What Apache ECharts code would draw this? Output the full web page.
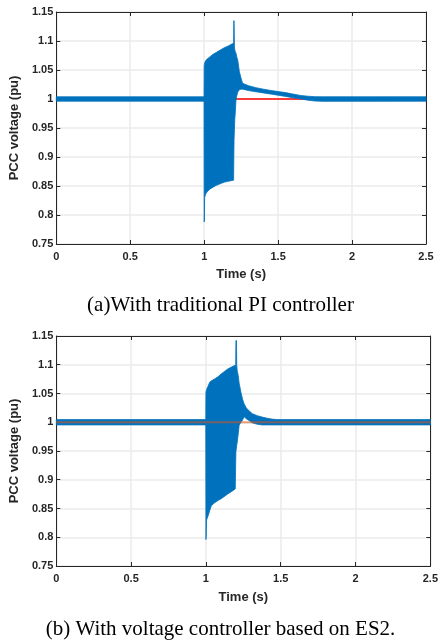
<!DOCTYPE html>
<html>
<head>
<meta charset="utf-8">
<script src="https://cdn.jsdelivr.net/npm/echarts@6/dist/echarts.min.js"></script>
<style>
html,body{margin:0;padding:0;background:#fff;}
#chart{width:441px;height:640px;}
</style>
</head>
<body>
<div id="chart"></div>
<script>
// ---------- data ----------
const xTickLabels = ['0', '0.5', '1', '1.5', '2', '2.5'];
const yTickLabels = ['0.75', '0.8', '0.85', '0.9', '0.95', '1', '1.05', '1.1', '1.15'];
const captionA = '(a)With traditional PI controller';
const captionB = '(b) With voltage controller based on ES2.';
const xName = 'Time (s)';
const yName = 'PCC voltage (pu)';

// (a) PCC voltage envelope (upper / lower bound of the oscillating trace)
const timeA = [0, 0.999, 1.0, 1.0015, 1.003, 1.01, 1.02, 1.04, 1.06, 1.08, 1.1, 1.12, 1.14, 1.16, 1.18, 1.199, 1.2005, 1.202, 1.2045, 1.207, 1.21, 1.215, 1.22, 1.227, 1.238, 1.249, 1.26, 1.3, 1.35, 1.4, 1.45, 1.5, 1.55, 1.6, 1.65, 1.7, 1.75, 1.8, 2.5];
const upperA = [1.0038, 1.0038, 1.058, 1.059, 1.062, 1.066, 1.069, 1.073, 1.077, 1.080, 1.083, 1.086, 1.089, 1.091, 1.094, 1.096, 1.135, 1.135, 1.09, 1.085, 1.082, 1.079, 1.073, 1.067, 1.047, 1.036, 1.027, 1.023, 1.0195, 1.017, 1.0148, 1.0128, 1.011, 1.0085, 1.0062, 1.0048, 1.004, 1.0038, 1.0038];
const lowerA = [0.9962, 0.9962, 0.788, 0.79, 0.83, 0.836, 0.840, 0.845, 0.848, 0.851, 0.853, 0.855, 0.857, 0.858, 0.859, 0.860, 0.90, 0.93, 0.947, 0.965, 0.975, 0.998, 1.005, 1.012, 1.016, 1.017, 1.017, 1.0145, 1.0125, 1.0105, 1.0085, 1.0065, 1.0045, 1.002, 1.0003, 0.998, 0.9965, 0.996, 0.9962];
const refTimeA = [0, 2.5];
const refValA = [1, 1];

// (b) PCC voltage envelope
const timeB = [0, 0.999, 1.0, 1.0015, 1.004, 1.015, 1.025, 1.036, 1.058, 1.08, 1.102, 1.146, 1.19, 1.196, 1.199, 1.2005, 1.204, 1.206, 1.209, 1.216, 1.222, 1.234, 1.245, 1.255, 1.27, 1.288, 1.31, 1.343, 1.375, 1.409, 1.44, 1.475, 2.5];
const upperB = [1.0046, 1.0046, 1.053, 1.054, 1.057, 1.063, 1.0696, 1.072, 1.0753, 1.079, 1.084, 1.0927, 1.0985, 1.099, 1.10, 1.142, 1.142, 1.10, 1.09, 1.081, 1.068, 1.052, 1.04, 1.032, 1.025, 1.020, 1.015, 1.0115, 1.009, 1.007, 1.0055, 1.0046, 1.0046];
const lowerB = [0.9954, 0.9954, 0.796, 0.80, 0.83, 0.8376, 0.846, 0.855, 0.86, 0.8637, 0.867, 0.8753, 0.8828, 0.884, 0.93, 0.95, 0.955, 0.96, 0.965, 0.98, 0.995, 1.0, 1.004, 1.0097, 1.006, 1.003, 0.999, 0.9965, 0.9954, 0.9954, 0.9954, 0.9954, 0.9954];
const refTimeB = [0, 2.5];
const refValB = [1, 1];

// ---------- chart ----------
const TXT = '#262626';
const sans = 'Liberation Sans, Arial, sans-serif';
const serif = 'Liberation Serif, Times New Roman, serif';

function mainX(gi, gap) {
  return {
    type: 'value', gridIndex: gi, position: 'bottom', min: 0, max: 2.5, interval: 0.5,
    name: xName, nameLocation: 'middle', nameGap: gap,
    nameTextStyle: { fontFamily: sans, fontWeight: 'bold', fontSize: 13, color: TXT },
    axisLine: { show: true, onZero: false, lineStyle: { color: TXT, width: 1 } },
    axisTick: { show: true, inside: true, length: 4, lineStyle: { color: TXT } },
    axisLabel: { fontFamily: sans, fontWeight: 'bold', fontSize: 11, color: TXT, margin: 7,
      formatter: v => xTickLabels[Math.round(v / 0.5)] },
    splitLine: { show: true, lineStyle: { color: '#ebebeb', width: 1.5 } }
  };
}
function topX(gi) {
  return {
    type: 'value', gridIndex: gi, position: 'top', min: 0, max: 2.5, interval: 0.5,
    axisLine: { show: true, onZero: false, lineStyle: { color: TXT, width: 1 } },
    axisTick: { show: true, inside: true, length: 4, lineStyle: { color: TXT } },
    axisLabel: { show: false }, splitLine: { show: false }
  };
}
function mainY(gi) {
  return {
    type: 'value', gridIndex: gi, position: 'left', min: 0.75, max: 1.15, interval: 0.05,
    name: yName, nameLocation: 'middle', nameGap: 29,
    nameTextStyle: { fontFamily: sans, fontWeight: 'bold', fontSize: 13, color: TXT },
    axisLine: { show: true, onZero: false, lineStyle: { color: TXT, width: 1 } },
    axisTick: { show: true, inside: true, length: 4, lineStyle: { color: TXT } },
    axisLabel: { fontFamily: sans, fontWeight: 'bold', fontSize: 11, color: TXT, margin: 3,
      formatter: v => yTickLabels[Math.round((v - 0.75) / 0.05)] },
    splitLine: { show: true, lineStyle: { color: '#ebebeb', width: 1.5 } }
  };
}
function rightY(gi) {
  return {
    type: 'value', gridIndex: gi, position: 'right', min: 0.75, max: 1.15, interval: 0.05,
    axisLine: { show: true, onZero: false, lineStyle: { color: TXT, width: 1 } },
    axisTick: { show: true, inside: true, length: 4, lineStyle: { color: TXT } },
    axisLabel: { show: false }, splitLine: { show: false }
  };
}
function band(times, up, lo, xi, yi) {
  return {
    type: 'custom', xAxisIndex: xi, yAxisIndex: yi, z: 3,
    data: times.map((t, i) => [t, up[i], lo[i]]),
    encode: { x: 0, y: [1, 2] },
    renderItem: function (params, api) {
      if (params.dataIndex !== 0) return null;
      const pts = [];
      for (let i = 0; i < times.length; i++) pts.push(api.coord([times[i], up[i]]));
      for (let i = times.length - 1; i >= 0; i--) pts.push(api.coord([times[i], lo[i]]));
      return { type: 'polygon', shape: { points: pts },
        style: { fill: '#0072BD', stroke: '#0072BD', lineWidth: 0.8 } };
    }
  };
}

const option = {
  animation: false,
  backgroundColor: '#fff',
  title: [
    { text: captionA, left: 'center', top: 290,
      textStyle: { fontFamily: serif, fontSize: 21, fontWeight: 'normal', color: '#000' } },
    { text: captionB, left: 'center', top: 614,
      textStyle: { fontFamily: serif, fontSize: 21, fontWeight: 'normal', color: '#000' } }
  ],
  grid: [
    { left: 51, top: 12, width: 375, height: 232 },
    { left: 52, top: 336, width: 380, height: 230 }
  ],
  xAxis: [mainX(0, 24), topX(0), mainX(1, 25), topX(1)],
  yAxis: [mainY(0), rightY(0), mainY(1), rightY(1)],
  series: [
    { type: 'line', xAxisIndex: 0, yAxisIndex: 0, z: 2, symbol: 'none',
      data: refTimeA.map((t, i) => [t, refValA[i]]),
      lineStyle: { color: '#ff0000', width: 1.5 } },
    band(timeA, upperA, lowerA, 0, 0),
    band(timeB, upperB, lowerB, 2, 2),
    { type: 'line', xAxisIndex: 2, yAxisIndex: 2, z: 4, symbol: 'none',
      data: refTimeB.map((t, i) => [t, refValB[i]]),
      lineStyle: { color: '#D95319', width: 2, opacity: 0.55 } }
  ]
};
const chart = echarts.init(document.getElementById('chart'), null, { renderer: 'canvas' });
chart.setOption(option);
</script>
</body>
</html>
